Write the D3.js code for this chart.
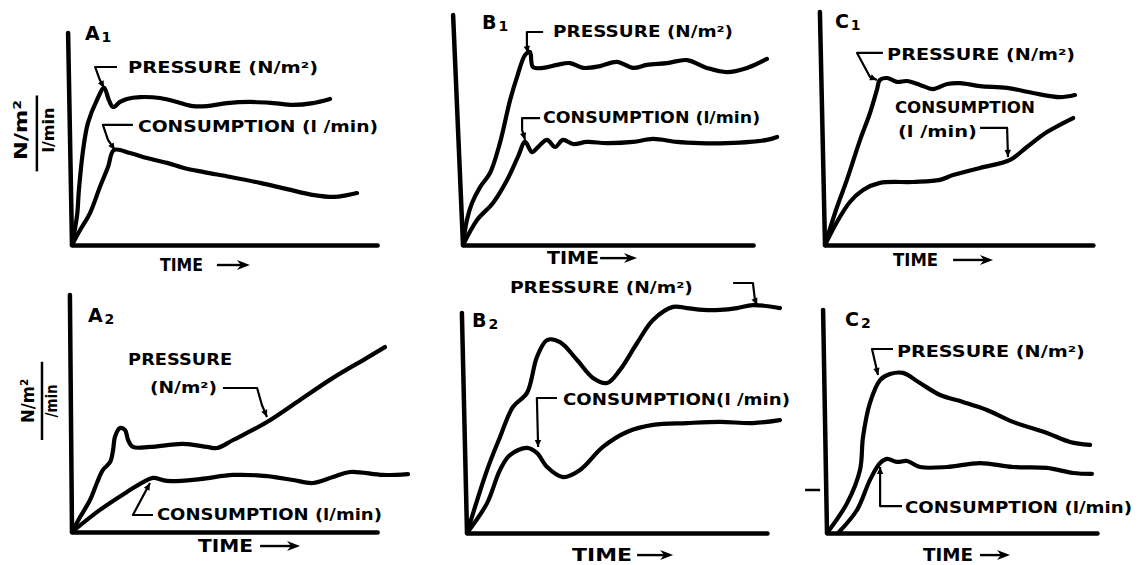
<!DOCTYPE html>
<html><head><meta charset="utf-8">
<script src="https://cdn.jsdelivr.net/npm/d3@7"></script>
<style>html,body{margin:0;padding:0;background:#fff;} svg{display:block;}</style>
</head><body>
<svg id="chart" width="1142" height="565"></svg>
<script>
// ---------------- DATA: [time, value] pairs ----------------
const a1Pressure = [[0,0],[1.7,13],[2.3,23.9],[3.7,41.3],[5.3,53],[8.3,63],[10.7,68.3],[12.3,63],[13.7,60],[16,62.2],[18.3,63.5],[22.7,64.3],[29.3,63.9],[35,62.2],[40.3,60.4],[45,60.4],[51.7,61.7],[59.3,62.2],[67,61.7],[73.7,60.9],[80.3,61.7],[86,63.5]];
const a1Consumption = [[0,0],[2.7,6.5],[6,13.9],[9.3,25.2],[12,33.9],[14,41.3],[19.3,40],[25,37.8],[31.7,35.7],[37.3,33.5],[44,31.7],[52.7,29.6],[62.7,27],[71.7,24.3],[80.7,21.7],[87.3,20.9],[91.7,21.7],[95,22.6]];

const b1Pressure = [[0,0],[1.3,10.9],[3,18.3],[5.7,25.2],[9,31.3],[12.3,44.3],[15.7,63],[18,73],[20.7,82.6],[22.3,83.9],[23.3,77.4],[26.7,77],[31.3,78.3],[35.7,79.1],[40,77],[45.7,77.8],[51.3,79.6],[56.7,77],[61.3,78.3],[68,79.1],[74.7,80.4],[81.3,77],[88,75.2],[94.7,77],[101.3,80.9]];
const b1Consumption = [[0,0],[4.7,10.9],[10,18.3],[14.7,28.3],[18.3,38.3],[20.7,44.8],[23,40.4],[25,42.6],[28,45.7],[30.7,42.6],[33.3,45.7],[36.7,43.9],[41.3,44.8],[48,44.3],[56.7,44.8],[63.3,46.1],[71.3,44.8],[79,44.3],[88,44.3],[95.7,44.8],[101.3,45.7],[104.7,47]];

const c1Pressure = [[0,0],[4,16.5],[7.3,28.3],[11.7,45.7],[15,57.4],[17.3,67.4],[18.3,71.7],[20.7,72.6],[24,70.9],[27.3,71.3],[31.7,69.6],[36,67.8],[40.7,70],[45,70.4],[51.7,69.1],[60.7,68.3],[69.3,66.1],[78.3,64.3],[83.3,65.2]];
const c1Consumption = [[0,0],[4,10],[8.3,18.7],[12.7,23.9],[18.3,27],[29.3,27.4],[38.3,28.3],[42.7,30.4],[51.7,33.5],[61.7,37],[67.3,42.6],[74,49.1],[82.7,55.2]];

const a2Pressure = [[0,0],[2.7,6.5],[6,13.9],[8.3,21.3],[10.3,27],[12.7,30.4],[13.7,35.7],[14.3,41.3],[16,45.2],[17.7,44.3],[18.7,40],[20.3,37],[26,37],[37,38.3],[45,37],[48.3,36.5],[53.7,40],[65,47.8],[76,57.4],[87,67],[98.3,75.7],[104.3,80.4]];
const a2Consumption = [[0,0],[9.3,9.6],[18.3,17.4],[23.7,21.7],[27,23.5],[31.7,22.2],[42.7,23],[53.7,24.8],[65,24.3],[73.7,22.6],[80.3,21.3],[87,23.9],[92.7,26.1],[103.7,24.8],[112,25.2]];

const b2Pressure = [[0,0],[6.7,27.4],[11,41.7],[15.3,54.8],[20,60.9],[23.3,76.5],[26.7,83.9],[31,83],[36.7,75.2],[42,67.4],[46.7,65.2],[51,70.9],[56.7,82.6],[62,92.6],[68.7,98.3],[73.3,97.8],[78.7,97],[84.3,97],[90,97.8],[95.3,99.1],[104.3,97.8]];
const b2Consumption = [[0,0],[6.7,13],[11,27.4],[14.3,33.9],[20,37],[23.3,34.8],[26.7,28.7],[32,24.3],[37.7,27.4],[45.3,37.4],[53.3,43.9],[62,47],[73.3,47.8],[84.3,48.3],[95.3,47.8],[104.3,49.1]];

const c2Pressure = [[0,0],[6.7,13],[11,27.4],[12,41.7],[14.3,56.5],[17.7,66.5],[21,69.1],[25.3,69.6],[31,65.2],[37.7,60],[45.3,57],[53.3,53.5],[62,48.3],[73.3,43.5],[81,39.6],[87.7,38.3]];
const c2Consumption = [[3.7,0],[10,10],[14.3,23],[17.7,30.4],[20,32.2],[23.3,30.9],[26.7,31.3],[31,28.7],[40,28.7],[51,30.4],[62,28.7],[73.3,28.3],[82,26.1],[88.3,25.7]];

const panelNames = ["A1","B1","C1","A2","B2","C2"];
const pressureText = "PRESSURE (N/m²)";
const timeText = "TIME";

// ---------------- LAYOUT / ANNOTATIONS (positions in data units of each panel) ----------------
const panels = [
  {name:"A", sub:"1", ox:72, oy:245, xEnd:101.7, yTop:92.2, slant:-1.3, p:a1Pressure, c:a1Consumption,
   letter:[4.3,92.2], time:[29.3,-8.7,43], arrow:[48.3,59.3],
   labels:[{t:pressureText,x:18.7,y:77,len:190},{t:"CONSUMPTION (l /min)",x:22,y:51.3,len:240}],
   leaders:[[[15,77.4],[7.7,77.4],[9.3,71.7],[10.7,68.3]],[[20.3,52.2],[10.3,52.2],[12,45.7],[14.3,41.3]]],
   ylab:{num:"N/m²",den:"l/min",numX:-17.3,denX:-8,lineX:-11.7,cy:50,numLen:60,denLen:45,lineTop:65,lineBot:32}},
  {name:"B", sub:"1", ox:463, oy:245, xEnd:96.7, yTop:100, slant:-3.3, p:b1Pressure, c:b1Consumption,
   letter:[6.3,97], time:[28,-5.7,52], arrow:[45.7,58],
   labels:[{t:pressureText,x:30,y:92.6,len:180},{t:"CONSUMPTION (l/min)",x:26.7,y:55.2,len:217}],
   leaders:[[[26.7,92.6],[21.3,92.6],[21.3,86.1],[21.7,83.5]],[[25.7,55.2],[19.7,55.2],[19.7,50],[20.7,45.7]]]},
  {name:"C", sub:"1", ox:825, oy:245, xEnd:89.3, yTop:101.3, slant:-1.7, p:c1Pressure, c:c1Consumption,
   letter:[3.3,97.4], time:[22.7,-6.5,45], arrow:[42.7,56],
   labels:[{t:pressureText,x:20.7,y:82.6,len:188},{t:"CONSUMPTION",x:23.3,y:59.6,len:140},{t:"(l /min)",x:24.3,y:49.1,len:79}],
   leaders:[[[19.3,83.5],[10.7,83.5],[15,73],[17.3,71.7]],[[51.7,50.9],[60.7,50.9],[61,38.3]]]},
  {name:"A", sub:"2", ox:72, oy:532, xEnd:101.7, yTop:103, slant:-0.7, p:a2Pressure, c:a2Consumption,
   letter:[5.3,94.3], time:[42,-6.1,55], arrow:[62.7,76],
   labels:[{t:"PRESSURE",x:18.7,y:74.8,len:104},{t:"(N/m²)",x:26,y:62.6,len:67},{t:"CONSUMPTION (l/min)",x:28.3,y:7.4,len:225}],
   leaders:[[[50.3,62.6],[61.7,62.6],[63.3,55.2],[65,50]],[[27,7.4],[20.3,7.4],[26,21.3]]],
   ylab:{num:"N/m²",den:"/min",numX:-14.7,denX:-7,lineX:-10,cy:57,numLen:44,denLen:33,lineTop:74,lineBot:40}},
  {name:"B", sub:"2", ox:467, oy:533, xEnd:100, yTop:95.7, slant:-1.7, p:b2Pressure, c:b2Consumption,
   letter:[1.7,92.6], time:[35,-9.6,60], arrow:[56.7,68.7],
   labels:[{t:pressureText,x:14.3,y:106.5,len:183},{t:"CONSUMPTION(l /min)",x:32,y:57.8,len:227}],
   leaders:[[[88.7,108.7],[95.3,108.7],[96,101.3],[96.7,99.1]],[[30,58.7],[23.3,58.7],[23.7,37.4]]]},
  {name:"C", sub:"2", ox:827, oy:533, xEnd:90, yTop:97, slant:-1.3, p:c2Pressure, c:c2Consumption,
   letter:[6,93], time:[32,-9.6,50], arrow:[51,61],
   labels:[{t:pressureText,x:23.3,y:78.7,len:188},{t:"CONSUMPTION (l/min)",x:26,y:10.9,len:227}],
   leaders:[[[22,80],[15,80],[17,68.7]],[[25,11.7],[17.7,11.7],[17.7,28.7]]],
   tick:[-7.3,-2.3,18.7]}
];

const FONT = "'DejaVu Sans', sans-serif";
const svg = d3.select("#chart");
svg.append("rect").attr("width",1142).attr("height",565).attr("fill","#fff");

panels.forEach(P => {
  const x = d3.scaleLinear().domain([0,100]).range([P.ox, P.ox+300]);
  const y = d3.scaleLinear().domain([0,100]).range([P.oy, P.oy-230]);
  const g = svg.append("g");

  // x axis via d3 axis (no ticks)
  const xa = d3.scaleLinear().domain([0,P.xEnd]).range([x(0), x(P.xEnd)]);
  const ax = g.append("g").attr("transform",`translate(0,${y(0)})`)
    .call(d3.axisBottom(xa).tickValues([]).tickSizeOuter(0));
  ax.select(".domain").attr("stroke","#000").attr("stroke-width",4.5).attr("stroke-linecap","round");

  // y axis (slightly slanted, hand drawn)
  const line = d3.line().x(d=>x(d[0])).y(d=>y(d[1]));
  g.append("path").attr("d", line([[0,0],[P.slant,P.yTop]]))
    .attr("stroke","#000").attr("stroke-width",4.5).attr("fill","none").attr("stroke-linecap","round");

  // curves
  const curve = d3.line().x(d=>x(d[0])).y(d=>y(d[1])).curve(d3.curveCatmullRom.alpha(0.5));
  [P.p, P.c].forEach(s => {
    g.append("path").attr("d", curve(s)).attr("fill","none").attr("stroke","#000")
      .attr("stroke-width",4.2).attr("stroke-linecap","round").attr("stroke-linejoin","round");
  });

  // leader lines
  P.leaders.forEach(L => {
    g.append("path").attr("d", line(L)).attr("fill","none").attr("stroke","#000")
      .attr("stroke-width",2.2).attr("stroke-linejoin","round");
    const e = L[L.length-1], pr = L[L.length-2];
    const ex = x(e[0]), ey = y(e[1]), px = x(pr[0]), py = y(pr[1]);
    const ang = Math.atan2(ey-py, ex-px);
    const s = 7, w = 3.2;
    const pts = [[ex,ey],[ex - s*Math.cos(ang) + w*Math.sin(ang), ey - s*Math.sin(ang) - w*Math.cos(ang)],
                 [ex - s*Math.cos(ang) - w*Math.sin(ang), ey - s*Math.sin(ang) + w*Math.cos(ang)]];
    g.append("path").attr("d", "M"+pts.map(p=>p.join(",")).join("L")+"Z").attr("fill","#000");
  });

  // labels
  P.labels.forEach(L => {
    g.append("text").attr("x", x(L.x)).attr("y", y(L.y)).attr("dy","0.36em")
      .attr("font-family",FONT).attr("font-weight","bold").attr("font-size",15)
      .attr("textLength",L.len).attr("lengthAdjust","spacingAndGlyphs").text(L.t);
  });

  // panel letter
  const lt = g.append("text").attr("x", x(P.letter[0])).attr("y", y(P.letter[1])).attr("dy","0.36em")
    .attr("font-family",FONT).attr("font-weight","bold").attr("font-size",19);
  lt.append("tspan").text(P.name);
  lt.append("tspan").attr("dx",2).attr("dy",2).attr("font-size",14).text(P.sub);

  // TIME label + arrow
  g.append("text").attr("x", x(P.time[0])).attr("y", y(P.time[1])).attr("dy","0.36em")
    .attr("font-family",FONT).attr("font-weight","bold").attr("font-size",17)
    .attr("textLength",P.time[2]).attr("lengthAdjust","spacingAndGlyphs").text(timeText);
  const ay = y(P.time[1]), a0 = x(P.arrow[0]), a1 = x(P.arrow[1]);
  g.append("line").attr("x1",a0).attr("x2",a1-8).attr("y1",ay).attr("y2",ay)
    .attr("stroke","#000").attr("stroke-width",2.4);
  g.append("path").attr("d",`M${a1},${ay}L${a1-13},${ay-5}L${a1-9},${ay}L${a1-13},${ay+5}Z`).attr("fill","#000");

  // y label fraction
  if (P.ylab) {
    const Y = P.ylab;
    const cy = y(Y.cy);
    g.append("text").attr("transform",`translate(${x(Y.numX)},${cy}) rotate(-90)`)
      .attr("text-anchor","middle").attr("dy","0.36em")
      .attr("font-family",FONT).attr("font-weight","bold").attr("font-size",18)
      .attr("textLength",Y.numLen).attr("lengthAdjust","spacingAndGlyphs").text(Y.num);
    g.append("line").attr("x1",x(Y.lineX)).attr("x2",x(Y.lineX)).attr("y1",y(Y.lineTop)).attr("y2",y(Y.lineBot))
      .attr("stroke","#000").attr("stroke-width",2.5);
    g.append("text").attr("transform",`translate(${x(Y.denX)},${cy}) rotate(-90)`)
      .attr("text-anchor","middle").attr("dy","0.36em")
      .attr("font-family",FONT).attr("font-weight","bold").attr("font-size",16)
      .attr("textLength",Y.denLen).attr("lengthAdjust","spacingAndGlyphs").text(Y.den);
  }

  if (P.tick) {
    g.append("line").attr("x1",x(P.tick[0])).attr("x2",x(P.tick[1])).attr("y1",y(P.tick[2])).attr("y2",y(P.tick[2]))
      .attr("stroke","#000").attr("stroke-width",2.5);
  }
});
</script>
</body></html>
